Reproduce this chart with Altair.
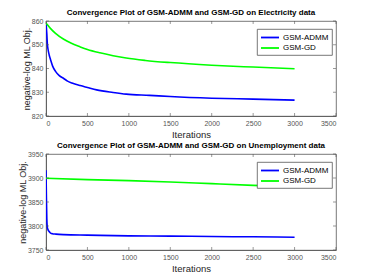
import altair as alt
import pandas as pd

methods = ["GSM-ADMM", "GSM-GD"]
colors = ["#0000ff", "#00ff00"]

# Electricity data
elec_admm_iter = [0, 5, 10, 16, 25, 40, 56, 80, 115, 160, 214, 260, 313, 413, 500, 611, 810, 968, 1250, 1500, 2000, 2500, 3000]
elec_admm_val = [859.2, 857.0, 854.5, 850.5, 848.0, 845.5, 843.6, 841.0, 838.8, 837.0, 835.8, 834.7, 833.9, 832.8, 832.0, 831.0, 829.9, 829.2, 828.7, 828.2, 827.5, 827.1, 826.7]
elec_gd_iter = [0, 20, 56, 115, 214, 300, 413, 500, 650, 810, 968, 1200, 1500, 2000, 2500, 3000]
elec_gd_val = [859.2, 858.3, 856.8, 854.8, 852.3, 850.7, 849.1, 848.0, 846.6, 845.4, 844.4, 843.4, 842.5, 841.4, 840.6, 839.9]

# Unemployment data
unemp_admm_iter = [0, 5, 10, 16, 25, 36, 50, 75, 120, 214, 500, 1000, 1500, 2000, 2500, 3000]
unemp_admm_val = [3916.0, 3860.0, 3815.0, 3797.0, 3792.0, 3789.0, 3786.0, 3784.0, 3783.0, 3782.0, 3781.0, 3779.5, 3779.0, 3778.0, 3777.5, 3776.7]
unemp_gd_iter = [0, 500, 1000, 1500, 2000, 2500, 3000]
unemp_gd_val = [3899.5, 3896.7, 3894.6, 3891.8, 3888.2, 3884.7, 3882.0]

x_ticks = [0, 500, 1000, 1500, 2000, 2500, 3000, 3500]
elec_y_ticks = [820, 830, 840, 850, 860]
unemp_y_ticks = [3750, 3800, 3850, 3900, 3950]


def frame(i1, v1, i2, v2):
    rows = [{"iter": a, "val": b, "method": methods[0]} for a, b in zip(i1, v1)]
    rows += [{"iter": a, "val": b, "method": methods[1]} for a, b in zip(i2, v2)]
    return pd.DataFrame(rows)


FONT = "Liberation Sans"
DARK = "#262626"
W = 290
TL = 3


def panel(df, title, yticks, h):
    xs = alt.Scale(domain=[x_ticks[0], x_ticks[-1]], nice=False)
    ys = alt.Scale(domain=[yticks[0], yticks[-1]], nice=False, zero=False)
    xax = alt.Axis(title="Iterations", values=x_ticks, format="d")
    yax = alt.Axis(title="negative-log ML Obj.", values=yticks, format="d", titlePadding=0,
                   titleFontSize=9)
    lines = alt.Chart(df).mark_line(
        strokeWidth=1.6, interpolate="monotone", clip=True
    ).encode(
        x=alt.X("iter:Q", scale=xs, axis=xax),
        y=alt.Y("val:Q", scale=ys, axis=yax),
        color=alt.Color("method:N", scale=alt.Scale(domain=methods, range=colors),
                        legend=alt.Legend(title=None, orient="none", legendX=211, legendY=8)),
    )
    xt = pd.DataFrame({"t": x_ticks})
    yt = pd.DataFrame({"t": yticks})
    tk = dict(color="#555555", strokeWidth=0.6)
    xtop = alt.Chart(xt).mark_rule(**tk).encode(x=alt.X("t:Q", scale=xs, axis=xax), y=alt.value(0), y2=alt.value(TL))
    xbot = alt.Chart(xt).mark_rule(**tk).encode(x=alt.X("t:Q", scale=xs, axis=xax), y=alt.value(h - TL), y2=alt.value(h))
    yl = alt.Chart(yt).mark_rule(**tk).encode(y=alt.Y("t:Q", scale=ys, axis=yax), x=alt.value(0), x2=alt.value(TL))
    yr = alt.Chart(yt).mark_rule(**tk).encode(y=alt.Y("t:Q", scale=ys, axis=yax), x=alt.value(W - TL), x2=alt.value(W))
    return alt.layer(lines, xtop, xbot, yl, yr, title=alt.TitleParams(
        title, fontSize=8, font=FONT, fontWeight="bold", color="#000000", offset=0)
    ).properties(width=W, height=h)


top = panel(frame(elec_admm_iter, elec_admm_val, elec_gd_iter, elec_gd_val),
            "Convergence Plot of GSM-ADMM and GSM-GD on Electricity data", elec_y_ticks, 95)
bot = panel(frame(unemp_admm_iter, unemp_admm_val, unemp_gd_iter, unemp_gd_val),
            "Convergence Plot of GSM-ADMM and GSM-GD on Unemployment data", unemp_y_ticks, 96)

chart = alt.vconcat(top, bot, spacing=2).resolve_scale(color="independent").resolve_legend(
    color="independent"
).properties(padding={"left": 10, "top": 0, "right": 0, "bottom": 0}, background="white").configure_view(
    stroke="#555555", strokeWidth=0.8
).configure_axis(
    labelFont=FONT, labelFontSize=7, labelColor="#555555", titleFont=FONT, titleFontSize=9.5,
    titleFontWeight="normal", titleColor=DARK, domainColor="#555555", domainWidth=0.8,
    ticks=False, grid=False, labelPadding=3, titlePadding=3, labelOverlap=False
).configure_legend(
    fillColor="white", strokeColor="#555555", strokeWidth=0.8, padding=3, symbolType="M-1,0H3",
    symbolSize=81, symbolStrokeWidth=1.8, labelFont=FONT, labelFontSize=8, labelColor="#000000",
    rowPadding=0.5, labelOffset=12
)

chart.save("out.html", embed_options={"renderer": "svg", "actions": False})
